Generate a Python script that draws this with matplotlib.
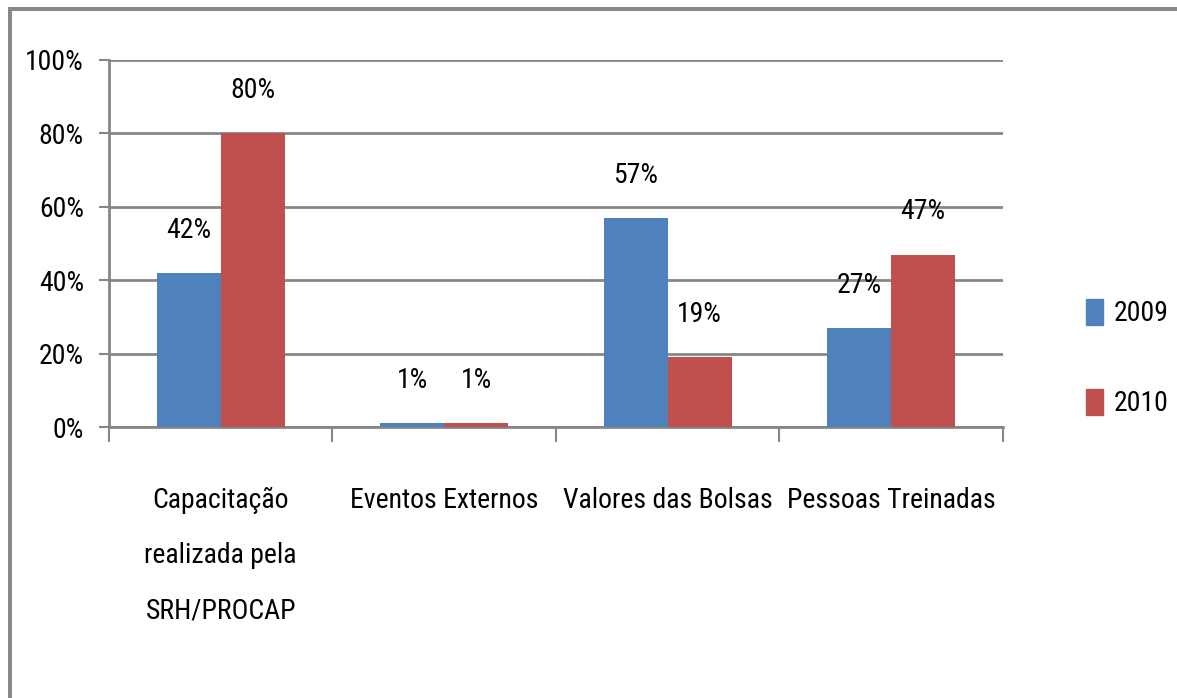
import matplotlib.pyplot as plt
from matplotlib import font_manager
from matplotlib.patches import Rectangle, Patch
import numpy as np

categories = ["Capacitação\nrealizada pela\nSRH/PROCAP", "Eventos Externos",
              "Valores das Bolsas", "Pessoas Treinadas"]
series_names = ["2009", "2010"]
values_2009 = [42, 1, 57, 27]
values_2010 = [80, 1, 19, 47]
y_ticks = [0, 20, 40, 60, 80, 100]
y_tick_labels = ["0%", "20%", "40%", "60%", "80%", "100%"]

# pick a narrow font if one is around, else Liberation Sans a bit smaller
installed = {f.name for f in font_manager.fontManager.ttflist}
FONT, FS = "Liberation Sans", 17
for name, size in [("Liberation Sans Narrow", 20), ("Roboto Condensed", 20),
                   ("DejaVu Sans Condensed", 18), ("Open Sans Condensed", 20)]:
    if name in installed:
        FONT, FS = name, size
        break
plt.rcParams['font.family'] = [FONT, 'DejaVu Sans']

BLUE = "#4F81BD"
RED = "#C0504D"
GRAY = "#868686"

fig = plt.figure(figsize=(11.77, 6.98), dpi=100)
W, H = 1177, 698

# outer frame (cut off at right and bottom)
fig.patches.append(Rectangle((9.5 / W, -0.05), 1.2, 1.05 - 9.5 / H,
                             transform=fig.transFigure, fill=False,
                             edgecolor="#888888", linewidth=2.9))

ax = fig.add_axes([109 / W, 1 - 427 / H, (1003 - 109) / W, (427 - 60) / H])

x = np.arange(len(categories))
bw = 0.286
b1 = ax.bar(x - bw / 2, values_2009, bw, color=BLUE, zorder=3)
b2 = ax.bar(x + bw / 2, values_2010, bw, color=RED, zorder=3)

for bars, vals in ((b1, values_2009), (b2, values_2010)):
    for rect, v in zip(bars, vals):
        ax.annotate(f"{v}%", (rect.get_x() + rect.get_width() / 2, rect.get_height()),
                    xytext=(0, 21), textcoords="offset points",
                    ha="center", va="bottom", fontsize=FS)

ax.set_xlim(-0.5, len(categories) - 0.5)
ax.set_ylim(0, 100)
ax.set_yticks(y_ticks)
ax.set_yticklabels(y_tick_labels, fontsize=FS)
ax.yaxis.grid(True, color=GRAY, linewidth=2)
ax.set_axisbelow(True)

ax.set_xticks(x)
ax.set_xticklabels(categories, fontsize=FS, linespacing=2.35, va="top")
ax.tick_params(axis="x", length=0, pad=43)
ax.set_xticks(np.arange(len(categories) + 1) - 0.5, minor=True)
ax.tick_params(axis="x", which="minor", length=11, width=1.5, color=GRAY)
ax.tick_params(axis="y", length=7, width=1.5, color=GRAY, pad=11)

for s in ("top", "right"):
    ax.spines[s].set_visible(False)
for s in ("left", "bottom"):
    ax.spines[s].set_color(GRAY)
    ax.spines[s].set_linewidth(2)

handles = [Patch(color=BLUE), Patch(color=RED)]
fig.legend(handles, series_names, loc="center left",
           bbox_to_anchor=(1061 / W, 1 - 358 / H), frameon=False,
           fontsize=FS, handlelength=0.6, handleheight=1.1,
           handletextpad=0.4, labelspacing=2.2)

fig.savefig("out.png", dpi=100)
